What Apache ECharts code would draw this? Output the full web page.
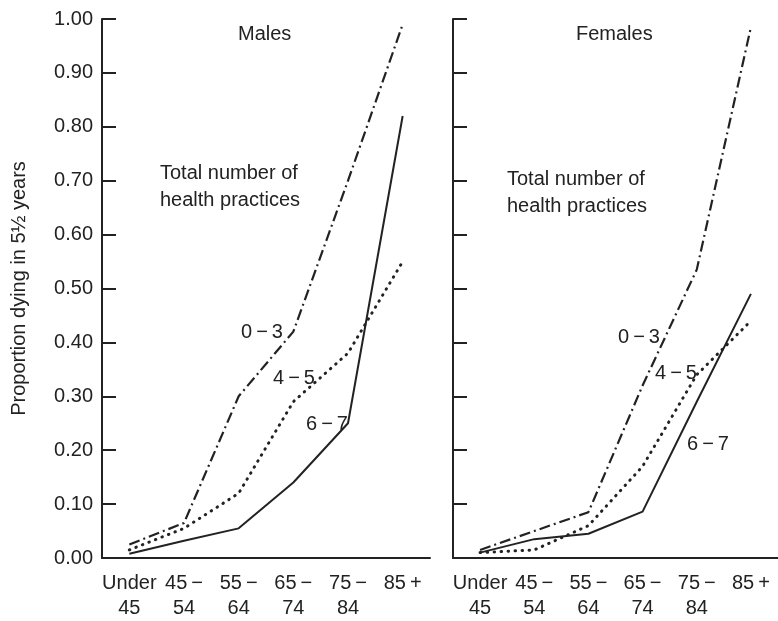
<!DOCTYPE html>
<html>
<head>
<meta charset="utf-8">
<script src="https://cdn.jsdelivr.net/npm/echarts@6/dist/echarts.min.js"></script>
<style>
html,body{margin:0;padding:0;background:#fff;}
#chart{width:778px;height:621px;}
</style>
</head>
<body>
<div id="chart"></div>
<script>
// Categories (age groups)
var categories = ['Under\n45', '45\u2009\u2212\n54', '55\u2009\u2212\n64', '65\u2009\u2212\n74', '75\u2009\u2212\n84', '85\u2009+'];
// Y-axis ticks
var yTicks = [0, 0.1, 0.2, 0.3, 0.4, 0.5, 0.6, 0.7, 0.8, 0.9, 1.0];

// Males: proportion dying, by total number of health practices
var males03 = [0.025, 0.065, 0.30, 0.42, 0.70, 0.99];
var males45 = [0.015, 0.055, 0.12, 0.29, 0.38, 0.55];
var males67 = [0.008, 0.032, 0.055, 0.14, 0.25, 0.82];

// Females
var females03 = [0.015, 0.05, 0.085, 0.32, 0.535, 0.985];
var females45 = [0.01, 0.015, 0.06, 0.17, 0.34, 0.44];
var females67 = [0.01, 0.035, 0.045, 0.086, 0.29, 0.49];

var seriesNames = ['0\u2009\u2212\u20093', '4\u2009\u2212\u20095', '6\u2009\u2212\u20097'];

var FONT = 'Liberation Sans, Arial, Helvetica, sans-serif';
var INK = '#222';

var chart = echarts.init(document.getElementById('chart'), null, {renderer: 'canvas'});

function xAxisDef(gridIndex) {
  return {
    type: 'category', gridIndex: gridIndex, data: categories, boundaryGap: true,
    axisLine: {lineStyle: {color: INK, width: 2}},
    axisTick: {inside: true, alignWithLabel: true, length: 12, lineStyle: {color: INK, width: 1.5}},
    axisLabel: {color: INK, fontSize: 20, fontFamily: FONT, margin: 13, lineHeight: 25, interval: 0},
    splitLine: {show: false}
  };
}
function yAxisDef(gridIndex, showLabels) {
  return {
    type: 'value', gridIndex: gridIndex, min: 0, max: 1, interval: 0.1,
    axisLine: {show: true, lineStyle: {color: INK, width: 2}},
    axisTick: {show: true, inside: true, length: 14, lineStyle: {color: INK, width: 2}},
    axisLabel: {show: showLabels, color: INK, fontSize: 20, fontFamily: FONT, margin: 9,
      formatter: function (v) { return v.toFixed(2); }},
    splitLine: {show: false},
    name: showLabels ? 'Proportion dying in 5\u00bd years' : '',
    nameLocation: 'middle', nameGap: 73,
    nameTextStyle: {color: INK, fontSize: 20, fontFamily: FONT}
  };
}

var dashDot = [11, 4, 2, 4];
var dotted = [0.5, 6.5];

function lineSeries(data, idx, type, width, cap) {
  return {
    type: 'line', xAxisIndex: idx, yAxisIndex: idx, data: data,
    symbol: 'none', animation: false,
    lineStyle: {color: INK, width: width, type: type, cap: cap || 'butt'}
  };
}

chart.setOption({
  animation: false,
  backgroundColor: '#fff',
  grid: [
    {left: 102, right: 348, top: 19, bottom: 56},
    {left: 453, right: 0, top: 19, bottom: 56}
  ],
  xAxis: [xAxisDef(0), xAxisDef(1)],
  yAxis: [yAxisDef(0, true), yAxisDef(1, false)],
  series: [
    lineSeries(males03, 0, dashDot, 2.2),
    lineSeries(males45, 0, dotted, 3, 'round'),
    lineSeries(males67, 0, 'solid', 2),
    lineSeries(females03, 1, dashDot, 2.2),
    lineSeries(females45, 1, dotted, 3, 'round'),
    lineSeries(females67, 1, 'solid', 2)
  ],
  graphic: [
    {type: 'text', left: 238, top: 24, style: {text: 'Males', fill: INK, font: '20px ' + FONT}},
    {type: 'text', left: 576, top: 24, style: {text: 'Females', fill: INK, font: '20px ' + FONT}},
    {type: 'text', left: 160, top: 160, style: {text: 'Total number of\nhealth practices', fill: INK, font: '20px ' + FONT, lineHeight: 27}},
    {type: 'text', left: 507, top: 166, style: {text: 'Total number of\nhealth practices', fill: INK, font: '20px ' + FONT, lineHeight: 27}},
    {type: 'text', left: 241, top: 322, style: {text: seriesNames[0], fill: INK, font: '20px ' + FONT}},
    {type: 'text', left: 273, top: 368, style: {text: seriesNames[1], fill: INK, font: '20px ' + FONT}},
    {type: 'text', left: 306, top: 414, style: {text: seriesNames[2], fill: INK, font: '20px ' + FONT}},
    {type: 'text', left: 618, top: 327, style: {text: seriesNames[0], fill: INK, font: '20px ' + FONT}},
    {type: 'text', left: 655, top: 363, style: {text: seriesNames[1], fill: INK, font: '20px ' + FONT}},
    {type: 'text', left: 687, top: 434, style: {text: seriesNames[2], fill: INK, font: '20px ' + FONT}}
  ]
});
</script>
</body>
</html>
